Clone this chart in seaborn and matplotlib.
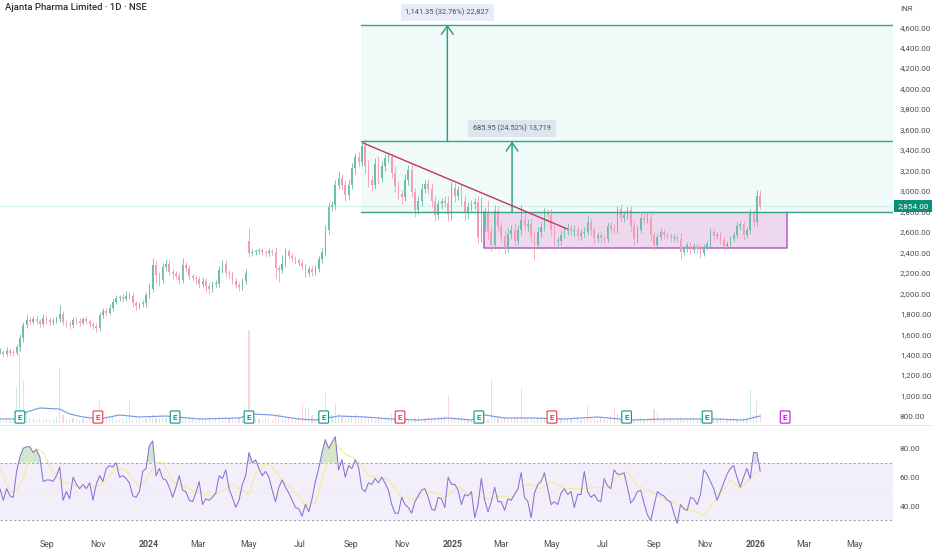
import numpy as np
import pandas as pd
import matplotlib
matplotlib.use("Agg")
import matplotlib.pyplot as plt
import seaborn as sns

sns.set_theme(style="white")
plt.rcParams['font.family'] = ['Roboto', 'DejaVu Sans']

TITLE = "Ajanta Pharma Limited · 1D · NSE"
LAST = 2854.0
dates = pd.date_range("2023-07-06", periods=230, freq="4D")

closes = [
 1430,1410,1440,1420,1415,1470,1560,1690,1740,1720,
 1750,1725,1700,1760,1735,1715,1730,1745,1800,1720,
 1700,1690,1740,1730,1710,1745,1725,1700,1680,1660,
 1790,1830,1810,1860,1915,1950,1960,1945,1970,1975,
 1900,1880,1890,1900,1980,2040,2280,2180,2130,2260,
 2290,2210,2190,2170,2130,2280,2250,2170,2150,2140,
 2090,2120,2070,2040,2090,2090,2230,2290,2200,2190,
 2120,2080,2060,2120,2200,2390,2400,2410,2420,2400,
 2390,2410,2400,2250,2230,2290,2410,2360,2340,2320,
 2300,2270,2200,2240,2210,2240,2330,2400,2620,2840,
 2860,3060,3130,3060,2960,3060,3220,3330,3280,3440,
 3240,3110,3060,3260,3130,3240,3320,3330,3180,3050,
 2970,2940,3110,3200,2990,2810,2900,3020,3070,3020,
 2900,2760,2870,2900,2880,2770,3030,2950,3010,2900,
 2780,2840,2870,2890,2550,2650,2790,2600,2470,2800,
 2660,2560,2440,2580,2620,2510,2620,2720,2660,2680,
 2560,2470,2600,2650,2780,2760,2620,2510,2510,2570,
 2610,2640,2610,2620,2560,2590,2600,2700,2620,2540,
 2570,2540,2530,2660,2630,2620,2820,2740,2760,2810,
 2660,2530,2620,2740,2720,2740,2570,2470,2550,2600,
 2570,2560,2540,2550,2530,2400,2430,2470,2420,2460,
 2430,2390,2450,2480,2600,2560,2570,2520,2460,2480,
 2530,2570,2660,2680,2570,2620,2770,2700,2950,LAST]
gap_opens = {75: 2510}
wick_up = [
 30,20,30,25,25,30,40,30,50,25,
 30,35,25,40,30,30,25,30,85,30,
 20,25,30,25,30,25,30,25,20,30,
 30,25,30,35,30,30,25,30,55,40,
 25,20,25,30,30,60,65,40,30,40,
 40,30,25,30,30,60,30,25,20,30,
 30,35,25,30,30,40,35,30,30,25,
 30,30,25,30,40,125,30,25,20,25,
 25,30,25,40,30,80,30,25,30,25,
 25,30,30,30,25,35,30,40,50,50,
 40,50,60,40,50,60,50,40,60,40,
 70,60,50,60,80,50,40,50,40,60,
 50,40,60,50,60,40,50,60,40,50,
 60,50,40,30,50,70,60,50,40,60,
 60,50,40,40,60,290,40,120,60,60,
 50,40,60,60,50,70,50,140,60,50,
 60,50,50,50,50,40,60,50,40,50,
 40,50,40,50,40,40,50,60,40,30,
 30,40,30,40,40,50,30,50,40,30,
 40,50,40,40,50,40,40,30,30,40,
 30,30,30,30,30,60,30,30,30,30,
 30,40,30,30,40,30,30,30,30,30,
 30,30,40,30,30,30,50,40,60,60]
wick_down = [
 25,30,20,30,25,20,30,40,25,30,
 25,30,30,20,35,25,30,25,30,30,
 30,40,25,30,30,25,30,30,30,40,
 30,30,30,25,30,25,30,30,25,30,
 30,40,30,25,30,30,30,80,60,30,
 40,30,50,30,40,30,40,30,30,50,
 40,30,60,50,30,30,30,30,30,40,
 30,30,40,30,30,40,30,30,25,30,
 40,30,30,100,120,30,30,30,30,30,
 30,30,40,30,40,30,30,30,40,40,
 40,50,40,50,60,50,40,50,40,40,
 60,70,60,40,60,40,50,40,50,60,
 50,70,40,50,50,60,40,50,40,50,
 60,50,40,50,40,60,50,60,40,50,
 70,50,40,50,60,50,40,70,60,40,
 50,60,55,40,50,60,40,50,40,50,
 60,145,40,50,40,50,60,60,50,40,
 30,40,40,50,50,40,40,30,50,60,
 40,50,50,30,40,40,30,40,40,30,
 60,60,40,30,40,30,60,50,40,30,
 40,30,40,30,30,70,30,30,40,30,
 40,50,30,30,30,50,30,40,40,30,
 30,30,30,40,50,30,40,50,40,30]

# Volume in units of the lower overlay scale
volume = [
 3,2,3,2,4,36,82,42,12,5,
 5,3,4,3,4,3,4,6,55,8,
 4,3,5,4,3,4,3,4,5,6,
 22,6,4,5,7,4,3,4,5,22,
 3,4,5,3,4,6,9,5,4,6,
 5,3,4,3,4,5,4,6,4,3,
 4,3,4,5,3,4,6,3,4,5,
 4,3,6,5,7,93,9,5,4,3,
 5,4,3,8,10,4,3,5,4,3,
 6,18,15,16,8,4,5,12,30,10,
 8,20,9,6,5,7,6,9,5,7,
 4,5,6,3,7,4,5,6,9,5,
 4,6,5,4,3,5,7,3,4,6,
 5,4,6,5,7,28,5,4,6,8,
 5,4,3,4,9,6,5,4,43,7,
 5,4,6,5,4,6,5,35,6,4,
 5,3,6,4,6,5,4,3,5,4,
 3,5,4,3,5,3,4,18,6,4,
 3,5,4,3,7,15,9,3,5,4,
 5,3,4,6,3,4,4,14,10,3,
 4,3,5,4,3,6,4,3,5,4,
 3,4,3,5,9,4,3,5,3,4,
 3,5,4,3,5,4,33,8,22,9]
vol_ma_idx = [0,4,6,8,12,18,21,25,30,36,42,50,60,72,76,82,90,95,102,110,118,126,135,142,146,152,160,170,180,190,200,215,224,229]
vol_ma = [4,4,5,11,15,14,9,6,4,8,6,7,4,5,9,8,4,3,7,6,4,3,5,3,8,5,5,4,6,3,4,4,3,7]

rsi = [
 52,44,52,47,46,64,74,80,81,81,
 77,79,74,57,58,58,57,61,67,44,
 50,45,60,55,52,55,52,56,44,55,
 61,57,66,68,67,70,60,61,59,56,
 47,46,50,64,66,82,85,61,66,59,
 58,53,46,53,61,51,50,44,43,49,
 57,41,45,44,46,49,61,59,65,52,
 46,39,44,55,61,77,70,72,66,61,
 64,60,51,43,53,58,53,49,44,39,
 38,33,41,36,45,57,66,77,86,80,
 84,88,65,72,60,68,66,72,67,52,
 50,56,55,59,56,60,56,51,41,35,
 35,46,41,39,35,43,47,51,52,46,
 38,37,46,45,39,60,55,55,51,41,
 48,47,50,32,41,59,44,36,43,53,
 43,43,37,45,44,48,52,63,46,43,
 32,49,55,57,63,52,41,43,41,49,
 52,48,50,39,48,48,64,50,46,48,
 44,43,59,54,52,65,62,62,63,53,
 42,45,50,51,42,34,30,40,50,48,
 47,44,43,35,28,41,38,37,46,45,
 41,48,65,62,57,52,44,50,56,62,
 66,68,60,53,60,66,59,77,77,64]
rsi_ma_idx = [0,3,5,7,9,11,13,15,17,20,24,29,32,35,38,42,44,47,49,52,56,60,64,67,70,72,75,77,80,82,85,88,92,95,98,101,104,108,111,117,121,125,130,134,138,
 140,143,147,151,154,157,160,163,166,170,175,180,183,186,189,192,196,200,204,208,212,217,220,223,228]
rsi_ma = [66,50,50,60,74,80,77,68,60,56,53,53,58,66,65,53,58,70,70,57,53,49,47,50,55,52,48,63,69,67,58,52,41,42,66,83,76,71,61,58,46,45,50,46,54,
 50,47,45,47,46,54,55,52,57,52,52,53,53,60,64,54,50,45,41,37,34,48,58,52,64]

earn_dates = ["2023-07-30","2023-11-01","2024-02-02","2024-05-01","2024-07-30","2024-10-30","2025-02-02","2025-05-01","2025-07-30","2025-11-04","2026-02-06"]
earn_cols = ["#089981","#f23645","#089981","#089981","#089981","#f23645","#089981","#f23645","#089981","#089981","#d500f9"]
month_ticks = ["2023-09-01","2023-11-01","2024-01-01","2024-03-01","2024-05-01","2024-07-01","2024-09-01","2024-11-01","2025-01-01","2025-03-01","2025-05-01","2025-07-01","2025-09-01","2025-11-01","2026-01-01","2026-03-01","2026-05-01"]
month_labels = ["Sep","Nov","2024","Mar","May","Jul","Sep","Nov","2025","Mar","May","Jul","Sep","Nov","2026","Mar","May"]
price_ticks = list(range(800, 4601, 200))
rsi_ticks = [40, 60, 80]
levels = [2797.6, 3483.55, 4624.9]
level_labels = ["685.95 (24.52%) 13,719", "1,141.35 (32.76%) 22,827"]
box_low, box_high = 2440, 2797.6
trend_prices = [3470, 2630]

W, H = 932, 550
fig = plt.figure(figsize=(W/100, H/100), dpi=100, facecolor="white")
ax = fig.add_axes([0, (H-424)/H, 893/W, 424/H])
axr = fig.add_axes([0, (H-530)/H, 893/W, 105/H])
x0 = pd.Timestamp("2023-07-06"); x1 = x0 + pd.Timedelta(days=1076)
for a in (ax, axr):
    a.set_xlim(x0, x1)
    a.set_facecolor("white")
    sns.despine(ax=a, left=True, bottom=True, right=True, top=True)
ax.set_ylim(722, 4866)
axr.set_ylim(23.4, 96.1)

txt = "#4a4e59"
ts = lambda s: pd.Timestamp(s)

# --- drawings under the candles
xl = ts("2024-09-13"); xb0 = ts("2025-02-08"); xb1 = ts("2026-02-08")
ax.fill_between([xl, x1], levels[0], levels[2], color="#f0faf8", lw=0, zorder=1)
ax.fill_between([xb0, xb1], box_low, box_high, color="#eed8f0", lw=0, zorder=1.5)
ax.plot([xb0, xb0, xb1, xb1], [box_high, box_low, box_low, box_high], color="#b45cc4", lw=1.1, zorder=2)
ax.axhline(LAST, color="#d5f0eb", lw=0.9, zorder=1.6)

# --- volume overlay
axv = ax.twinx()
axv.set_ylim(-1, 423)
axv.axis("off")
o = np.array([gap_opens.get(i, closes[i-1] if i else closes[0]) for i in range(len(closes))], float)
c = np.array(closes, float)
hi = np.maximum(o, c) + np.array(wick_up)
lo = np.minimum(o, c) - np.array(wick_down)
up = c >= o
cols = np.where(up, "#6dbdaa", "#f29db1")
vcols = np.where(up, "#cfeae5", "#fad5dd")
axv.bar(dates, volume, width=1.4, color=vcols, lw=0, zorder=2)
sns.lineplot(x=dates[vol_ma_idx], y=vol_ma, ax=axv, color="#7b9ae6", lw=0.85, errorbar=None, estimator=None, legend=False)
axv.set_xlabel(""); axv.set_ylabel("")
axv.patch.set_alpha(0)

# --- candles
ax.set_zorder(axv.get_zorder() + 1)
ax.patch.set_alpha(0)
ax.vlines(dates, lo, hi, colors=cols, lw=0.6, zorder=3)
ax.bar(dates, np.maximum(np.abs(c-o), 8), bottom=np.minimum(o, c), width=2.0, color=cols, lw=0, zorder=3)

# --- long-position lines, arrows, trend
for lv in levels:
    ax.plot([xl, x1], [lv, lv], color="#3ba58f", lw=1.05, zorder=4)
a1 = ts("2024-12-26"); a2 = ts("2025-03-14")
for a, y0, y1 in ((a1, levels[1], levels[2]), (a2, levels[0], levels[1])):
    ax.annotate("", xy=(a, y1), xytext=(a, y0), zorder=4,
                arrowprops=dict(arrowstyle="->,head_length=0.5,head_width=0.35", color="#2f9e86", lw=1.05, shrinkA=0, shrinkB=0))
ax.plot([ts("2024-09-15"), ts("2025-05-19")], trend_prices, color="#c2375e", lw=1.0, zorder=4.5)
ax.text(a1, levels[2] + 117, level_labels[1], ha="center", va="center", fontsize=5.3, color=txt, zorder=6,
        bbox=dict(boxstyle="square,pad=0.65", fc="#e9ebf6", ec="none"))
ax.text(a2, levels[1] + 127, level_labels[0], ha="center", va="center", fontsize=5.3, color=txt, zorder=6,
        bbox=dict(boxstyle="square,pad=0.65", fc="#dfe5ef", ec="none"))

# --- earnings badges
for d, col in zip(earn_dates, earn_cols):
    ax.text(ts(d), 790, "E", ha="center", va="center", fontsize=5.8, color=col, fontweight="bold", zorder=7,
            bbox=dict(boxstyle="round,pad=0.32,rounding_size=0.12", fc="white", ec=col, lw=0.8))

# --- axes text
ax.yaxis.tick_right()
ax.set_yticks(price_ticks, [f"{p:,.2f}" for p in price_ticks])
ax.set_xticks([])
ax.tick_params(axis="y", length=0, pad=5, labelsize=5.9, labelcolor=txt)
ax.grid(False); axr.grid(False)
ax.set_xlabel(""); ax.set_ylabel("")
fig.text(5/W, 1-8/H, TITLE, fontsize=6.8, color="#2a2e39", va="center", fontweight="medium")
fig.text(900/W, 1-9/H, "INR", fontsize=5.7, color=txt, va="center")
ax.text(1.005, LAST, f"{LAST:,.2f}", transform=ax.get_yaxis_transform(), ha="left", va="center",
        fontsize=5.9, color="white", zorder=10, clip_on=False,
        bbox=dict(boxstyle="square,pad=0.4", fc="#0b8f78", ec="none"))
fig.add_artist(plt.Line2D([0, 1], [1-424.5/H, 1-424.5/H], color="#e3e5ea", lw=0.8))

# --- RSI pane
axr.fill_between([x0, x1], 30, 70, color="#f3effa", lw=0, zorder=1)
axr.axhline(70, color="#9a9aa4", lw=0.65, ls=(0, (2.5, 2.5)), zorder=2)
axr.axhline(30, color="#9a9aa4", lw=0.65, ls=(0, (2.5, 2.5)), zorder=2)
axr.axhline(50, color="#e6e4ec", lw=0.65, ls=(0, (5, 5)), zorder=2)
r = np.array(rsi, float)
axr.fill_between(dates, 70, r, where=r > 70, interpolate=True, color="#a9d2ad", alpha=0.55, lw=0, zorder=2)
sns.lineplot(x=dates[rsi_ma_idx], y=rsi_ma, ax=axr, color="#f4ec9c", lw=0.9, errorbar=None, estimator=None, legend=False, zorder=3)
sns.lineplot(x=dates, y=rsi, ax=axr, color="#8a72cf", lw=0.75, errorbar=None, estimator=None, legend=False, zorder=4)
axr.yaxis.tick_right()
axr.set_yticks(rsi_ticks, [f"{v:.2f}" for v in rsi_ticks])
axr.set_xticks([ts(m) for m in month_ticks], month_labels)
axr.tick_params(axis="y", length=0, pad=5, labelsize=5.9, labelcolor=txt)
axr.tick_params(axis="x", length=0, pad=7, labelsize=6.3, labelcolor=txt)
for lab in axr.get_xticklabels():
    if lab.get_text().isdigit():
        lab.set_fontweight("bold")
axr.set_xlabel(""); axr.set_ylabel("")

fig.savefig("out.png", dpi=100, facecolor="white")
